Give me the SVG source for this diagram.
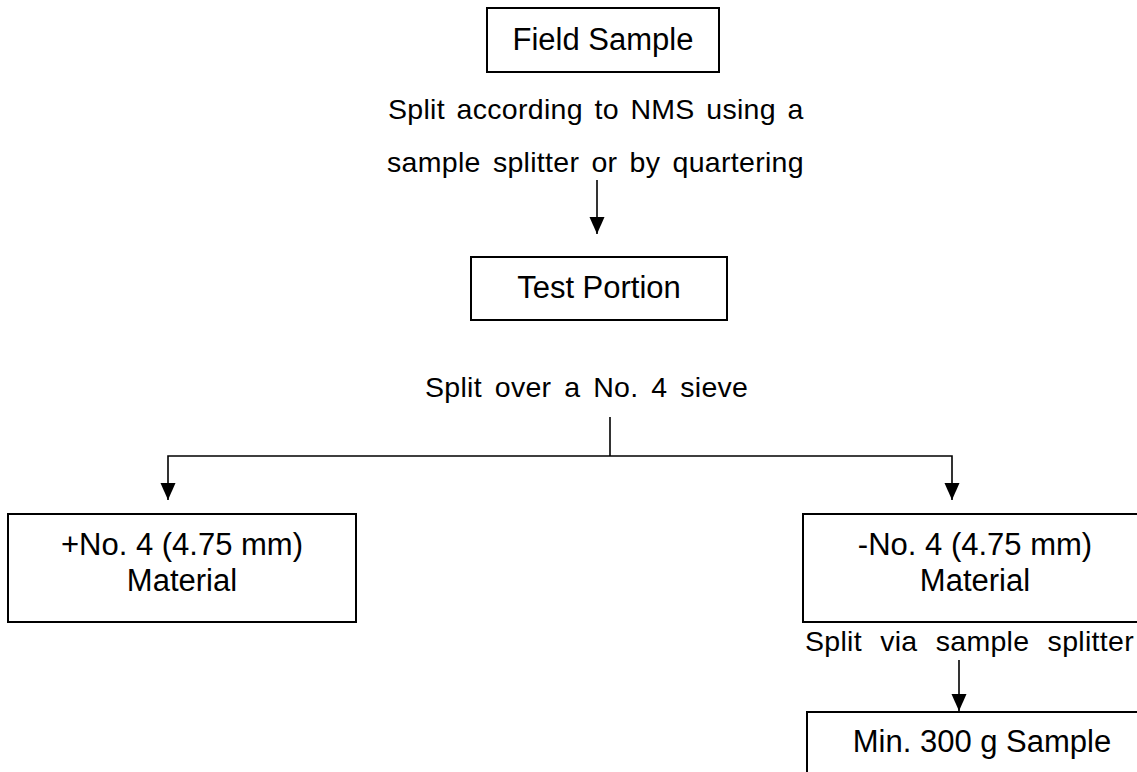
<svg xmlns="http://www.w3.org/2000/svg" width="1137" height="772" viewBox="0 0 1137 772">
  <style>
    .box { fill: #ffffff; stroke: #000000; stroke-width: 2; }
    .t { font-family: "Liberation Sans", Arial, sans-serif; font-size: 31px; fill: #000000; text-anchor: middle; }
    .lbl { font-family: "Liberation Sans", Arial, sans-serif; font-size: 28.5px; letter-spacing: 0.3px; fill: #000000; }
    .conn { fill: none; stroke: #000000; stroke-width: 1.6; }
  </style>
  <defs>
    <marker id="arrow" markerUnits="userSpaceOnUse" markerWidth="18" markerHeight="16" viewBox="0 -8 18 16" refX="17" refY="0" orient="auto">
      <path d="M0,-7.5 L17,0 L0,7.5 Z" fill="#000000"/>
    </marker>
  </defs>
  <rect width="1137" height="772" fill="#ffffff"/>

  <g id="field-sample">
    <rect class="box" x="487" y="8" width="232" height="64"/>
    <text class="t" x="603" y="50">Field Sample</text>
  </g>

  <g id="label-split-nms">
    <text class="lbl" x="388" y="119" word-spacing="3.4">Split according to NMS using a</text>
    <text class="lbl" x="387" y="172" word-spacing="4">sample splitter or by quartering</text>
  </g>

  <g id="test-portion">
    <rect class="box" x="471" y="257" width="256" height="63"/>
    <text class="t" x="599" y="298">Test Portion</text>
  </g>

  <g id="label-sieve">
    <text class="lbl" x="425" y="397" word-spacing="4.6">Split over a No. 4 sieve</text>
  </g>

  <g id="plus-no4">
    <rect class="box" x="8" y="514" width="348" height="108"/>
    <text class="t" x="182" y="555">+No. 4 (4.75 mm)</text>
    <text class="t" x="182" y="591">Material</text>
  </g>

  <g id="minus-no4">
    <rect class="box" x="803" y="514" width="360" height="108"/>
    <text class="t" x="975" y="555">-No. 4 (4.75 mm)</text>
    <text class="t" x="975" y="591">Material</text>
  </g>

  <g id="label-splitter">
    <text class="lbl" x="805" y="651" word-spacing="10">Split via sample splitter</text>
  </g>

  <g id="min-300g">
    <rect class="box" x="807" y="712" width="360" height="80"/>
    <text class="t" x="982" y="752">Min. 300 g Sample</text>
  </g>

  <g id="connectors">
    <line class="conn" x1="597" y1="180" x2="597" y2="234" marker-end="url(#arrow)"/>
    <line class="conn" x1="610" y1="417" x2="610" y2="456"/>
    <polyline class="conn" points="610,456 168,456 168,500" marker-end="url(#arrow)"/>
    <polyline class="conn" points="610,456 952,456 952,500" marker-end="url(#arrow)"/>
    <line class="conn" x1="959" y1="660" x2="959" y2="711" marker-end="url(#arrow)"/>
  </g>
</svg>
